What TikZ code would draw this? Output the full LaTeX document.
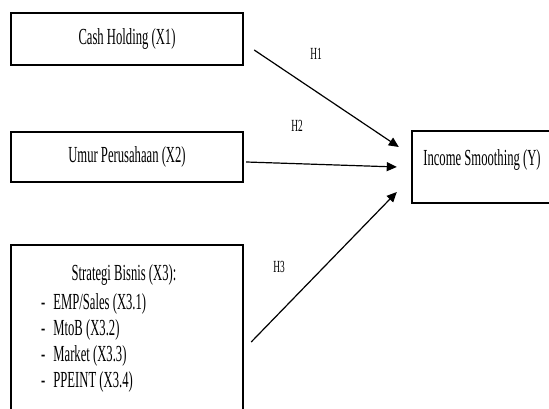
\documentclass[tikz,border=0pt]{standalone}
\usepackage{fontspec}
\setmainfont{Liberation Serif}[FakeStretch=0.55]
\usetikzlibrary{arrows.meta,positioning}

\begin{document}
\begin{tikzpicture} [x=1pt,y=1pt,{varbox/.style={rectangle,draw=black,line width=2.4pt,inner sep=0pt,font=\fontsize{23}{26}\selectfont}},{itemtext/.style={anchor=base west,inner sep=0pt,font=\fontsize{23}{26}\selectfont}},{hyplabel/.style={inner sep=0pt,font=\fontsize{17}{20}\selectfont}},{hyparrow/.style={line width=1.2pt,-{Triangle[length=10pt,width=9pt]}}}]
	%%frame of the picture
	\useasboundingbox (0,0) rectangle (549,409);
	\clip (0,0) rectangle (549,409);
	\fill [white] (0,0) rectangle (549,409);
	%%independent variables
	\node [varbox,minimum width=232pt,minimum height=52pt] (x1) at (127,370) {Cash Holding (X1)};
	\node [varbox,minimum width=232pt,minimum height=50pt] (x2) at (127,252) {Umur Perusahaan (X2)};
	\node [varbox,minimum width=232pt,minimum height=174pt] (x3) at (127,77) {};
	\node [itemtext,anchor=center] (x3title) at (124,134) {Strategi Bisnis (X3):};
	\node [itemtext] (x3a) at (41,99) {-\hspace{8pt}EMP/Sales (X3.1)};
	\node [itemtext] (x3b) at (41,73) {-\hspace{8pt}MtoB (X3.2)};
	\node [itemtext] (x3c) at (41,47) {-\hspace{8pt}Market (X3.3)};
	\node [itemtext] (x3d) at (41,21) {-\hspace{8pt}PPEINT (X3.4)};
	%%dependent variable
	\node [varbox,minimum width=180pt,minimum height=72pt] (y) at (502,242) {};
	\node [itemtext,anchor=center] (ytext) at (482,249) {Income Smoothing (Y)};
	
	%%hypotheses
	\draw [hyparrow] ([xshift=10pt,yshift=-11pt]x1.east) -- ([xshift=-12pt,yshift=20pt]y.west);
	\draw [hyparrow] ([xshift=2pt,yshift=-5pt]x2.east) -- ([xshift=-14pt]y.west);
	\draw [hyparrow] ([xshift=7pt,yshift=-10pt]x3.east) -- ([xshift=-14pt,yshift=-25pt]y.west);
	\node [hyplabel] (h1) at (316,355) {H1};
	\node [hyplabel] (h2) at (297,283) {H2};
	\node [hyplabel] (h3) at (279,142) {H3};

	\end{tikzpicture}
\end{document}
